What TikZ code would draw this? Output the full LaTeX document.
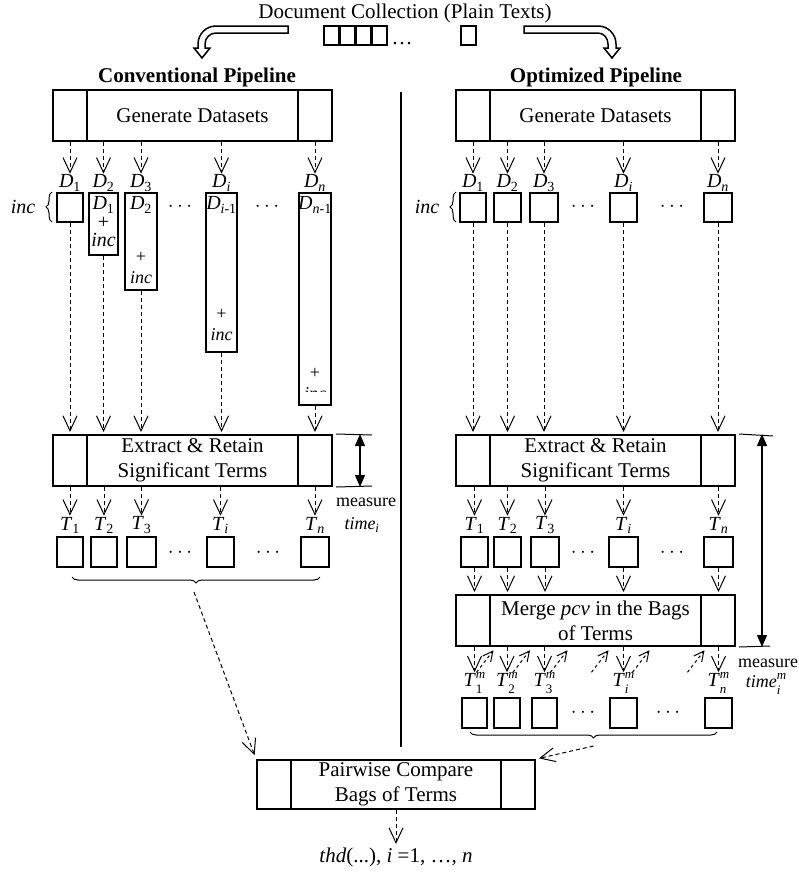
\documentclass[tikz,border=0pt]{standalone}
\usepackage{fontspec}
\setmainfont{Liberation Serif}
\usetikzlibrary{arrows.meta,decorations.pathreplacing,calc}

\newcommand{\stagefont}{\fontsize{21}{25}\selectfont}
\newcommand{\lblfont}{\fontsize{20}{22}\selectfont}
\newcommand{\smfont}{\fontsize{18}{20}\selectfont}
\newcommand{\scriptfnt}{\fontsize{13}{13}\selectfont}
\newcommand{\Dsub}[1]{\textit{D}\textsubscript{#1}}
\newcommand{\Tsub}[1]{\textit{T}\textsubscript{#1}}
% stacked super- and subscript after a base letter
\newcommand{\stackscr}[3]{#1\rlap{\raisebox{7.5pt}{\scriptfnt #2}}\rlap{\raisebox{-7.5pt}{\scriptfnt #3}}\hphantom{\scriptfnt #2}}

\begin{document}
\begin{tikzpicture}[x=1pt,y=-1pt,
  stage/.style={draw, line width=2pt, minimum width=279pt, minimum height=51pt, inner sep=0pt, align=center, font=\stagefont},
  cell/.style={draw, line width=1.5pt, minimum height=30pt, inner sep=0pt},
  lbl/.style={inner sep=1pt, font=\lblfont},
  addon/.style={inner sep=0pt, align=center, font=\fontsize{18}{20.5}\selectfont},
  flow/.style={line width=1pt, dash pattern=on 4pt off 3pt, -{Straight Barb[length=15pt,width=14pt,line width=1pt]}},
  backflow/.style={line width=1pt, dash pattern=on 3pt off 3pt, -{Straight Barb[length=10pt,width=10pt,line width=1pt]}},
  gauge/.style={line width=1.2pt, {Triangle[length=12pt,width=10pt]}-{Triangle[length=12pt,width=10pt]}},
  bigarrow/.style={draw, line width=1.5pt, fill=white, line join=miter},
  curly/.style={decorate, decoration={brace, amplitude=6pt}, line width=1pt}
]
\useasboundingbox (0,0) rectangle (799,873);

% source collection
\node[font=\stagefont] (doc) at (405,13) {Document Collection (Plain Texts)};
\foreach \k in {0,...,3}
  \node[draw, line width=1.5pt, minimum width=15pt, minimum height=19pt, inner sep=0pt] (sq\k) at (331.5+16*\k,35.5) {};
\node[font=\stagefont, anchor=base] (sqdots) at (402,44) {…};
\node[draw, line width=1.5pt, minimum width=15pt, minimum height=19pt, inner sep=0pt] (sqn) at (468.5,35.5) {};

% bent block arrows to both pipelines
\path[bigarrow] (288,26) -- (216,26) to[out=180,in=90] (198,44) -- (198,48) -- (194,48)
  -- (202,58) -- (210,48) -- (205,48) -- (205,44) to[out=90,in=180] (216,33) -- (288,33) -- cycle;
\path[bigarrow] (524,26) -- (598,26) to[out=0,in=90] (616,44) -- (616,48) -- (620,48)
  -- (612,58) -- (604,48) -- (608,48) -- (608,44) to[out=90,in=0] (598,33) -- (524,33) -- cycle;

\node[font=\stagefont\bfseries] (convtitle) at (197,77) {Conventional Pipeline};
\node[font=\stagefont\bfseries] (opttitle) at (596,77) {Optimized Pipeline};

% separator
\coordinate (sepTop) at (401,92);
\coordinate (sepBot) at (401,747);
\draw[line width=1.2pt] (sepTop) -- (sepBot);

% stages
\node[stage] (genL) at (192.5,115.5) {Generate Datasets};
\node[stage] (genR) at (595.5,115.5) {Generate Datasets};
\node[stage] (extL) at (192.5,460.5) {Extract \& Retain\\Significant Terms};
\node[stage] (extR) at (595.5,460.5) {Extract \& Retain\\Significant Terms};
\node[stage] (merge) at (595.5,620.5) {Merge \textit{pcv} in the Bags\\of Terms};
\node[stage, minimum width=278pt, minimum height=49pt] (pw) at (396,784.5) {Pairwise Compare\\Bags of Terms};
\foreach \s in {genL,genR,extL,extR,merge,pw} {
  \draw[line width=2pt] ([xshift=35pt]\s.north west) -- ([xshift=35pt]\s.south west);
  \draw[line width=2pt] ([xshift=-35pt]\s.north east) -- ([xshift=-35pt]\s.south east);
}

% ---- conventional pipeline ----
\foreach \c/\x/\w/\h/\t in {1/70/26/29/1, 2/103.5/29/62/2, 3/141/32/97/3, i/221.5/31/159/\textit{i}, n/315/32/212/\textit{n}} {
  \node[cell, minimum width=\w pt, minimum height=\h pt, anchor=north] (dL\c) at (\x,192) {};
  \node[lbl] (dlL\c) at (\x,183) {\Dsub{\t}};
  \draw[flow] (genL.south -| dlL\c) -- (dlL\c.north);
  \draw[flow, shorten >=2pt] (dL\c.south) -- (dL\c.south |- extL.north);
}
\node[addon, font=\fontsize{20}{18.5}\selectfont] (inD2) at (103.5,222) {\Dsub{1}\\+\\\textit{inc}};
\node[lbl] (inD3) at (141,205) {\Dsub{2}};
\node[addon] (addD3) at (141,268) {+\\\textit{inc}};
\node[lbl] (inDi) at (221.5,205) {\Dsub{\textit{i}-1}};
\node[addon] (addDi) at (221.5,325) {+\\\textit{inc}};
\node[lbl] (inDn) at (315,205) {\Dsub{\textit{n}-1}};
\begin{scope}
  \clip (300,360) rectangle (330,391);
  \node[addon] (addDn) at (315,384) {+\\\textit{inc}};
\end{scope}
\node[lbl] (dotsL1) at (180,207) {$\cdots$};
\node[lbl] (dotsL2) at (267,207) {$\cdots$};
\node[lbl] (incL) at (23,207) {\textit{inc}};
\draw[curly] (52,222) -- (52,192);

\foreach \c/\x/\w/\t in {1/70/26/1, 2/104/26/2, 3/141.5/29/3, i/220.5/27/\textit{i}, n/315/28/\textit{n}} {
  \node[cell, minimum width=\w pt] (tL\c) at (\x,552) {};
  \node[lbl] (tlL\c) at (\x,525) {\Tsub{\t}};
  \draw[flow] (extL.south -| tlL\c) -- (tlL\c.north);
}
\node[lbl] (dotsL3) at (180,553) {$\cdots$};
\node[lbl] (dotsL4) at (268,553) {$\cdots$};
\draw[curly] (320,577) -- (72,577);
\coordinate (tipL) at (194,592);
\draw[flow, shorten >=4pt] (tipL) -- (pw.north west);

% timing of the conventional run
\coordinate (mLtop) at (372,435);
\coordinate (mLbot) at (372,486);
\coordinate (gL) at (360,0);
\draw[line width=1pt] ([xshift=3pt]extL.north east) -- (mLtop);
\draw[line width=1pt] ([xshift=3pt]extL.south east) -- (mLbot);
\draw[gauge] (extL.north -| gL) -- (extL.south -| gL);
\node[font=\smfont] (measL) at (366,502) {measure};
\node[font=\smfont] (timeL) at (362,525) {\textit{time}\textsubscript{\textit{i}}};

% ---- optimized pipeline ----
\foreach \c/\x/\w/\t in {1/473/26/1, 2/507.5/27/2, 3/544/28/3, i/623.5/27/\textit{i}, n/718/28/\textit{n}} {
  \node[cell, minimum width=\w pt, minimum height=29pt, anchor=north] (dR\c) at (\x,192) {};
  \node[lbl] (dlR\c) at (\x,183) {\Dsub{\t}};
  \draw[flow] (genR.south -| dlR\c) -- (dlR\c.north);
  \draw[flow, shorten >=2pt] (dR\c.south) -- (dR\c.south |- extR.north);
}
\node[lbl] (dotsR1) at (583,207) {$\cdots$};
\node[lbl] (dotsR2) at (672,207) {$\cdots$};
\node[lbl] (incR) at (427,207) {\textit{inc}};
\draw[curly] (456,222) -- (456,192);

\foreach \c/\x/\w/\t in {1/474.5/27/1, 2/507.5/27/2, 3/545/28/3, i/623.5/29/\textit{i}, n/718.5/29/\textit{n}} {
  \node[cell, minimum width=\w pt] (tR\c) at (\x,552) {};
  \node[lbl] (tlR\c) at (\x,525) {\Tsub{\t}};
  \draw[flow] (extR.south -| tlR\c) -- (tlR\c.north);
  \draw[flow, shorten >=2pt] (tR\c.south) -- (tR\c.south |- merge.north);
}
\node[lbl] (dotsR3) at (583,553) {$\cdots$};
\node[lbl] (dotsR4) at (672,553) {$\cdots$};

\foreach \c/\x/\w/\t in {1/474.5/25/1, 2/507/26/2, 3/544.5/25/3, i/623.5/27/\textit{i}, n/718.5/27/\textit{n}} {
  \node[cell, minimum width=\w pt] (tmR\c) at (\x,713) {};
  \node[lbl, inner sep=0pt] (tmlR\c) at (\x,683) {\stackscr{\textit{T}}{\textit{m}}{\t}};
  \draw[flow] (merge.south -| tmlR\c) -- (tmlR\c.north);
}
\foreach \c/\dx in {1/2, 2/6, 3/6, i/-32, i/9, n/-31}
  \draw[backflow] ($(tmR\c.north)+(\dx,-25)$) -- ($(tmR\c.north)+(\dx+17,-47)$);
\node[lbl] (dotsR5) at (583,713) {$\cdots$};
\node[lbl] (dotsR6) at (668,713) {$\cdots$};
\draw[curly] (717,732) -- (470,732);
\coordinate (tipR) at (593.5,746);
\draw[flow, shorten >=3pt] (tipR) -- (pw.north east);

% timing of the optimized run
\coordinate (mRtop) at (773,436);
\coordinate (mRbot) at (770,646);
\coordinate (gR) at (762,0);
\draw[line width=1pt] ([xshift=3pt]extR.north east) -- (mRtop);
\draw[line width=1pt] ([xshift=3pt]merge.south east) -- (mRbot);
\draw[gauge] (extR.north -| gR) -- (merge.south -| gR);
\node[font=\smfont] (measR) at (768,663) {measure};
\node[font=\smfont, inner sep=0pt] (timeR) at (766,684) {\stackscr{\textit{time}}{\textit{m}}{\textit{i}}};

% final comparison
\node[font=\stagefont] (thd) at (396,857) {\textit{thd}(...), \textit{i} =1, …, \textit{n}};
\draw[flow] (pw.south) -- (thd.north);
\end{tikzpicture}
\end{document}
